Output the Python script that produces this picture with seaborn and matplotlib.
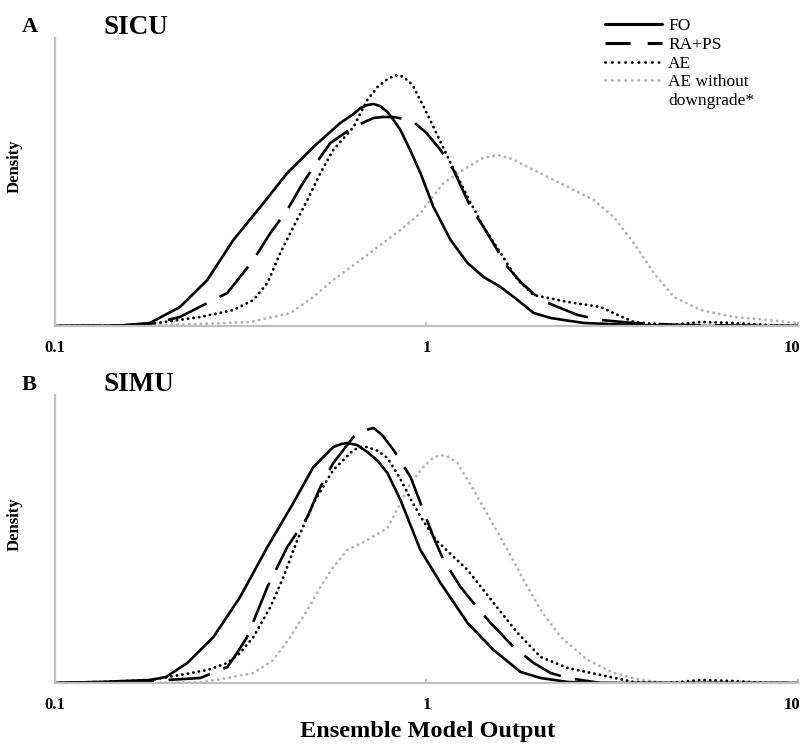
import numpy as np
import pandas as pd
import seaborn as sns
import matplotlib
matplotlib.use("Agg")
import matplotlib.pyplot as plt
from matplotlib.lines import Line2D
from matplotlib.transforms import ScaledTranslation

# ---------------- data ----------------
# Panel A - SICU
a_fo_x = [0.1, 0.15, 0.18, 0.217, 0.257, 0.302, 0.357, 0.422, 0.496, 0.586, 0.636, 0.664, 0.693,
          0.72, 0.75, 0.785, 0.815, 0.851, 0.906, 0.963, 1.044, 1.161, 1.29, 1.424, 1.583, 1.759,
          1.943, 2.159, 2.65, 3.614, 5.0, 10.0]
a_fo_y = [0, 0.005, 0.03, 0.19, 0.46, 0.86, 1.19, 1.53, 1.79, 2.03, 2.12, 2.18, 2.21,
          2.22, 2.2, 2.14, 2.06, 1.96, 1.75, 1.53, 1.19, 0.86, 0.63, 0.49, 0.39, 0.26,
          0.13, 0.08, 0.03, 0.01, 0, 0]

a_ra_x = [0.1, 0.15, 0.18, 0.217, 0.257, 0.291, 0.342, 0.38, 0.422, 0.458, 0.496, 0.551, 0.636,
          0.72, 0.76, 0.815, 0.87, 0.923, 1.0, 1.091, 1.182, 1.314, 1.424, 1.653, 1.792, 2.029,
          2.553, 2.944, 3.614, 4.838, 10.0]
a_ra_y = [0, 0.005, 0.02, 0.09, 0.23, 0.33, 0.66, 0.93, 1.16, 1.39, 1.59, 1.83, 1.99,
          2.08, 2.09, 2.09, 2.07, 2.04, 1.93, 1.76, 1.56, 1.19, 0.99, 0.59, 0.44, 0.26,
          0.11, 0.06, 0.03, 0.01, 0]

a_ae_x = [0.1, 0.15, 0.18, 0.246, 0.302, 0.342, 0.373, 0.404, 0.438, 0.478, 0.518, 0.561, 0.636,
          0.693, 0.738, 0.78, 0.815, 0.84, 0.867, 0.9, 0.923, 0.98, 1.044, 1.161, 1.29, 1.424,
          1.583, 1.759, 1.943, 2.4, 2.944, 3.272, 3.614, 4.463, 5.477, 6.723, 8.301, 10.0]
a_ae_y = [0, 0.005, 0.02, 0.09, 0.16, 0.26, 0.43, 0.73, 0.99, 1.26, 1.53, 1.76, 1.99,
          2.26, 2.39, 2.46, 2.5, 2.51, 2.49, 2.44, 2.39, 2.2, 1.99, 1.63, 1.29, 0.99,
          0.73, 0.46, 0.31, 0.24, 0.19, 0.11, 0.04, 0.01, 0.04, 0.03, 0.01, 0]

a_gr_x = [0.1, 0.132, 0.246, 0.336, 0.43, 0.496, 0.561, 0.664, 0.851, 0.963, 1.111, 1.29, 1.42,
          1.554, 1.7, 1.943, 2.4, 2.819, 3.192, 3.614, 4.091, 4.632, 5.477, 6.723, 8.301, 10.0]
a_gr_y = [0, 0, 0.02, 0.04, 0.13, 0.29, 0.46, 0.66, 0.96, 1.13, 1.43, 1.59, 1.68,
          1.71, 1.67, 1.56, 1.39, 1.26, 1.09, 0.83, 0.53, 0.29, 0.16, 0.09, 0.06, 0.03]

# Panel B - SIMU
b_fo_x = [0.1, 0.132, 0.18, 0.199, 0.227, 0.267, 0.315, 0.373, 0.438, 0.496, 0.561, 0.59, 0.612,
          0.65, 0.693, 0.74, 0.785, 0.851, 0.963, 1.091, 1.29, 1.516, 1.792, 2.029, 2.4, 2.944,
          10.0]
b_fo_y = [0, 0.01, 0.03, 0.06, 0.2, 0.46, 0.86, 1.36, 1.8, 2.16, 2.36, 2.39, 2.4,
          2.38, 2.31, 2.22, 2.1, 1.83, 1.33, 1.0, 0.6, 0.33, 0.11, 0.05, 0.01, 0,
          0]

b_ra_x = [0.1, 0.132, 0.18, 0.246, 0.291, 0.309, 0.329, 0.373, 0.422, 0.478, 0.518, 0.561, 0.636,
          0.67, 0.72, 0.76, 0.815, 0.906, 1.044, 1.111, 1.235, 1.372, 1.488, 1.716, 1.943, 2.159,
          2.4, 2.944, 10.0]
b_ra_y = [0, 0.01, 0.02, 0.05, 0.16, 0.3, 0.46, 0.96, 1.36, 1.66, 1.96, 2.2, 2.46,
          2.52, 2.55, 2.48, 2.33, 2.06, 1.46, 1.23, 0.96, 0.75, 0.6, 0.36, 0.2, 0.1,
          0.05, 0, 0]

b_ae_x = [0.1, 0.132, 0.18, 0.217, 0.257, 0.291, 0.315, 0.342, 0.38, 0.412, 0.449, 0.496, 0.561,
          0.636, 0.665, 0.693, 0.74, 0.785, 0.851, 0.906, 0.98, 1.06, 1.29, 1.516, 1.759, 2.029,
          2.4, 2.944, 3.614, 4.463, 5.477, 6.723, 8.301, 10.0]
b_ae_y = [0, 0.01, 0.03, 0.08, 0.13, 0.2, 0.3, 0.46, 0.76, 1.06, 1.43, 1.8, 2.13,
          2.33, 2.36, 2.36, 2.32, 2.25, 2.04, 1.84, 1.62, 1.43, 1.13, 0.8, 0.5, 0.26,
          0.15, 0.08, 0.01, 0, 0.03, 0.02, 0, 0]

b_gr_x = [0.1, 0.132, 0.246, 0.291, 0.342, 0.387, 0.43, 0.478, 0.518, 0.561, 0.612, 0.693, 0.785,
          0.851, 0.906, 0.981, 1.04, 1.091, 1.15, 1.212, 1.339, 1.488, 1.653, 1.826, 2.029, 2.297,
          2.716, 3.192, 3.774, 4.463, 10.0]
b_gr_y = [0, 0, 0.005, 0.05, 0.1, 0.23, 0.46, 0.73, 0.96, 1.16, 1.33, 1.43, 1.55,
          1.8, 2.0, 2.16, 2.25, 2.28, 2.26, 2.2, 1.93, 1.63, 1.33, 1.03, 0.73, 0.46,
          0.23, 0.1, 0.03, 0, 0]

series_labels = ["FO", "RA+PS", "AE", "AE without"]
legend_extra = "downgrade*"
panel_letters = ["A", "B"]
panel_titles = ["SICU", "SIMU"]
tick_values = [0.1, 1, 10]
tick_labels = ["0.1", "1", "10"]
x_label = "Ensemble Model Output"
y_label = "Density"

# ---------------- styling ----------------
sns.set_theme(style="white")
plt.rcParams["font.family"] = ["Liberation Serif", "DejaVu Serif"]
plt.rcParams["text.color"] = "black"
plt.rcParams["axes.labelcolor"] = "black"
plt.rcParams["xtick.color"] = "black"

W, H = 804, 748
fig = plt.figure(figsize=(W / 100, H / 100), dpi=100)

GRAY = "#b3b3b3"
SPINE = "#c0c0c0"
LW = 1.9
styles = {
    "FO": dict(color="black", lw=LW, linestyle="-"),
    "RA+PS": dict(color="black", lw=LW, linestyle=(0, (16, 5.5))),
    "AE": dict(color="black", lw=2.0, linestyle=(0, (0.1, 1.9)), dash_capstyle="round"),
    "AE without": dict(color=GRAY, lw=2.0, linestyle=(0, (0.1, 2.0)), dash_capstyle="round"),
}

panels = [
    dict(fo=(a_fo_x, a_fo_y), ra=(a_ra_x, a_ra_y), ae=(a_ae_x, a_ae_y), gr=(a_gr_x, a_gr_y)),
    dict(fo=(b_fo_x, b_fo_y), ra=(b_ra_x, b_ra_y), ae=(b_ae_x, b_ae_y), gr=(b_gr_x, b_gr_y)),
]
bottoms_px = [326, 683]
left_px, right_px, height_px = 55, 798, 288

for i, pdata in enumerate(panels):
    bpx = bottoms_px[i]
    ax = fig.add_axes([left_px / W, 1 - bpx / H, (right_px - left_px) / W, height_px / H])
    order = [("gr", "AE without"), ("ae", "AE"), ("ra", "RA+PS"), ("fo", "FO")]
    for key, lab in order:
        xs, ys = pdata[key]
        df = pd.DataFrame({"x": xs, "y": ys})
        sns.lineplot(data=df, x="x", y="y", ax=ax, estimator=None, sort=False,
                     legend=False, **styles[lab])
    ax.set_xscale("log")
    ax.set_xlim(0.1, 10)
    ax.set_ylim(0, 2.88)
    ax.set_xlabel("")
    ax.set_ylabel("")
    ax.set_yticks([])
    ax.set_xticks(tick_values)
    ax.set_xticklabels(tick_labels, fontweight="bold", fontsize=12)
    ax.xaxis.set_minor_locator(matplotlib.ticker.NullLocator())
    ax.tick_params(axis="x", direction="in", length=3, width=1.5, color=SPINE, pad=10,
                   labelcolor="black", bottom=True)
    # keep the right-most label inside the canvas
    lab10 = ax.get_xticklabels()[-1]
    lab10.set_transform(lab10.get_transform() + ScaledTranslation(-6 / 100, 0, fig.dpi_scale_trans))
    for s in ["top", "right"]:
        ax.spines[s].set_visible(False)
    for s in ["left", "bottom"]:
        ax.spines[s].set_color(SPINE)
        ax.spines[s].set_linewidth(1.6)
    ax.patch.set_alpha(0)

    # panel letters and titles
    ty = [27, 385][i]
    fig.text(22 / W, 1 - ty / H, panel_letters[i], fontsize=16, fontweight="bold",
             ha="left", va="center")
    fig.text(104 / W, 1 - ty / H, panel_titles[i], fontsize=19.5, fontweight="bold",
             ha="left", va="center")
    dy = [166, 524][i]
    fig.text(15 / W, 1 - dy / H, y_label, fontsize=12, fontweight="bold", rotation=90,
             ha="center", va="center")

fig.text(428 / W, 1 - 731 / H, x_label, fontsize=17.5, fontweight="bold", ha="center", va="center")

# legend
handles = [
    Line2D([], [], color="black", lw=2.2),
    Line2D([], [], color="black", lw=2.2, linestyle=(0, (8.2, 5.6))),
    Line2D([], [], color="black", lw=2.0, linestyle=(0, (0.1, 2.3)), dash_capstyle="round"),
    Line2D([], [], color=GRAY, lw=2.0, linestyle=(0, (0.1, 2.3)), dash_capstyle="round"),
]
fig.legend(handles, series_labels, loc="upper left", bbox_to_anchor=(605 / W, 1 - 18 / H),
           frameon=False, fontsize=12.5, handlelength=3.28, handletextpad=0.35,
           borderpad=0, borderaxespad=0, labelspacing=0.15)
fig.text(668 / W, 1 - 101 / H, legend_extra, fontsize=12.5, ha="left", va="center")

fig.savefig("out.png", dpi=100)
